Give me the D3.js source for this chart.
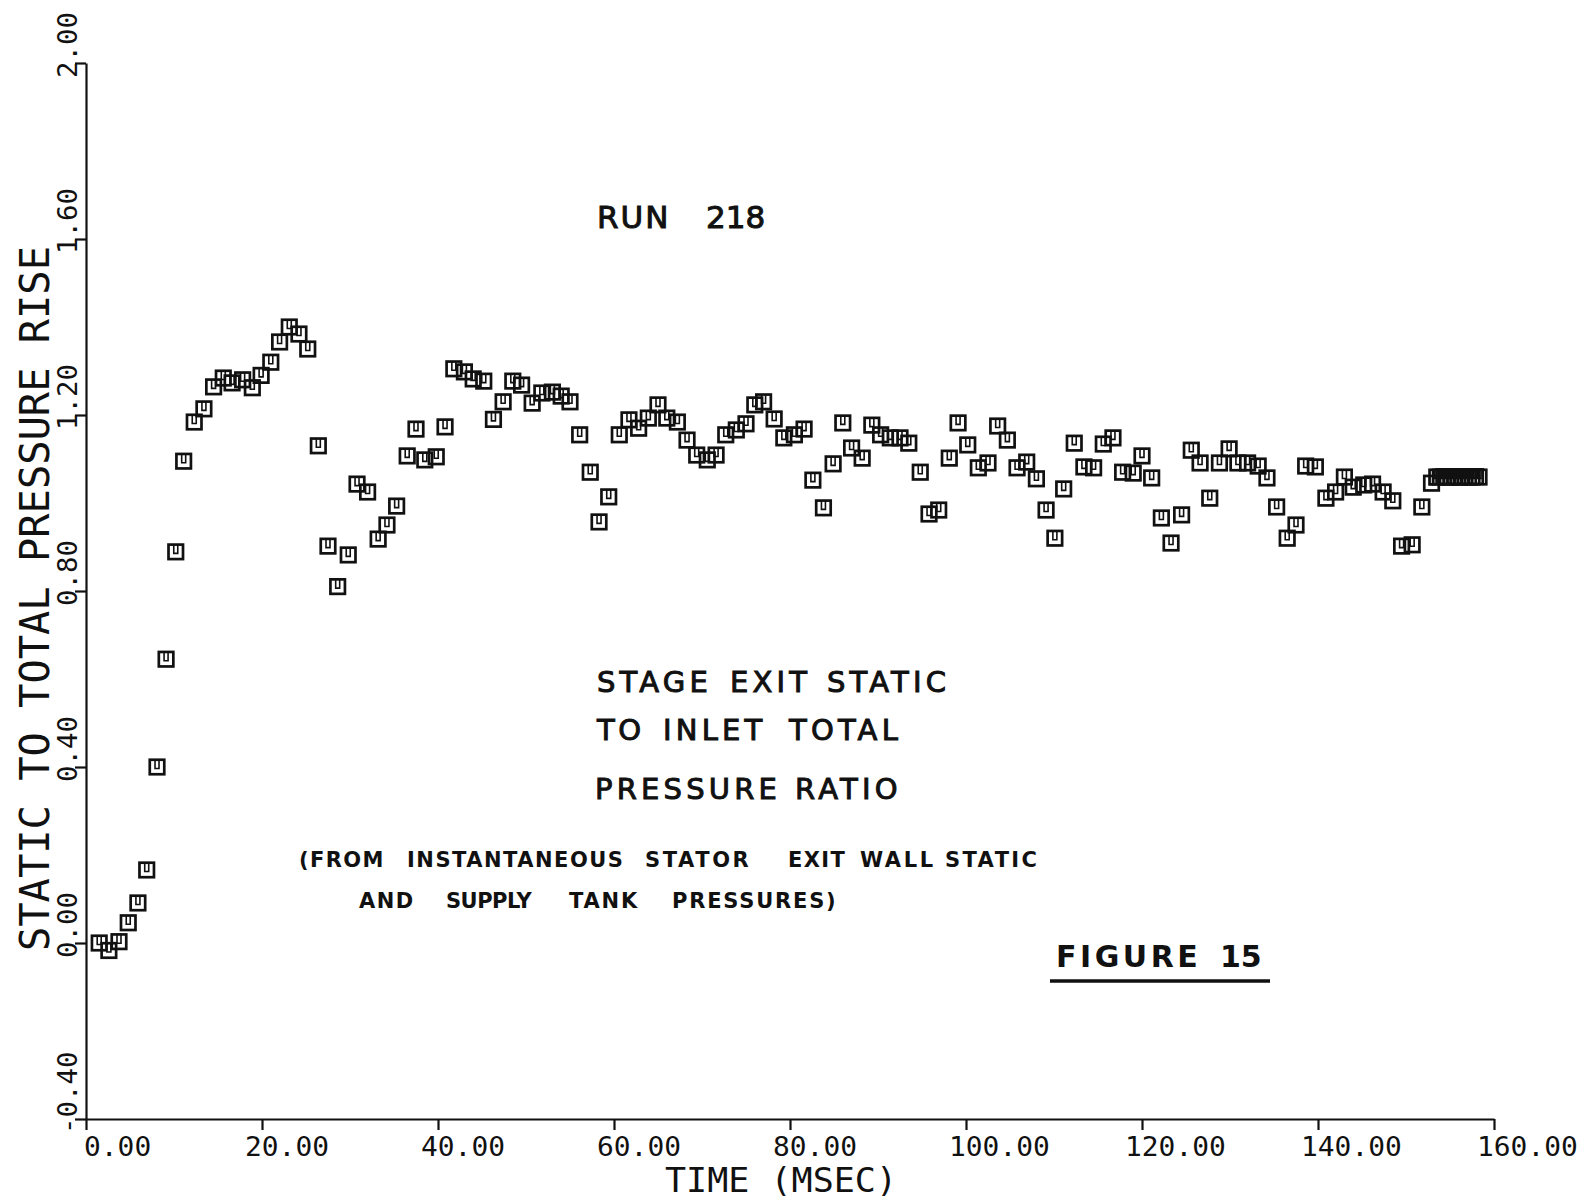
<!DOCTYPE html>
<html>
<head>
<meta charset="utf-8">
<script src="https://cdn.jsdelivr.net/npm/d3@7"></script>
<style>
  body { margin: 0; background: #fff; }
  svg { display: block; }
  .axis path, .axis line { stroke: #111; stroke-width: 2.2; }
  .tick-lbl { font-family: "DejaVu Sans Mono", monospace; font-size: 27px; fill: #111; }
  .note { font-family: "DejaVu Sans", sans-serif; fill: #111; stroke: #111; stroke-width: 1; }
  .note-b { font-family: "DejaVu Sans", sans-serif; font-weight: bold; fill: #111; }
</style>
</head>
<body>
<div id="chart"></div>
<script>
// values (time in msec, pressure ratio)
const timeMs = [1.5, 2.6, 3.75, 4.8, 5.9, 6.9, 8.07, 9.1, 10.2, 11.1, 12.3, 13.4, 14.5, 15.6, 16.6, 17.8, 18.9, 19.9,
  21.0, 22.0, 23.1, 24.2, 25.2, 26.4, 27.5, 28.6, 29.8, 30.8, 32.0, 33.2, 34.2, 35.3, 36.5, 37.5, 38.5, 39.8,
  40.8, 41.8, 43.0, 44.0, 45.2, 46.3, 47.4, 48.5, 49.5, 50.7, 51.8, 53.0, 54.0, 55.0, 56.1, 57.3, 58.3, 59.4,
  60.6, 61.7, 62.8, 63.9, 65.0, 66.0, 67.2, 68.3, 69.4, 70.6, 71.6, 72.7, 73.9, 75.0, 76.0, 77.0, 78.2, 79.3,
  80.5, 81.6, 82.6, 83.8, 84.9, 86.0, 87.0, 88.2, 89.3, 90.3, 91.4, 92.5, 93.5, 94.8, 95.8, 96.9, 98.1, 99.1,
  100.2, 101.4, 102.5, 103.6, 104.7, 105.8, 106.9, 108.0, 109.1, 110.1, 111.1, 112.3, 113.4, 114.5, 115.6, 116.7,
  117.8, 119.0, 120.0, 121.1, 122.2, 123.3, 124.5, 125.6, 126.6, 127.7, 128.8, 129.9, 130.9, 132.0, 133.2, 134.2,
  135.3, 136.5, 137.5, 138.6, 139.7, 140.9, 142.0, 143.0, 144.0, 145.2, 146.2, 147.4, 148.5, 149.5, 150.7, 151.8,
  152.9, 153.5, 153.9, 154.3, 154.7, 155.1, 155.5, 155.9, 156.3, 156.7, 157.1, 157.5, 157.9, 158.3];
const ratio = [0.0, -0.017, 0.003, 0.046, 0.091, 0.166, 0.40, 0.645, 0.889, 1.095, 1.184, 1.214, 1.264, 1.284, 1.273, 1.28, 1.262, 1.29,
  1.32, 1.366, 1.40, 1.384, 1.35, 1.13, 0.902, 0.81, 0.882, 1.043, 1.025, 0.918, 0.95, 0.993, 1.107, 1.168, 1.098, 1.105,
  1.173, 1.305, 1.298, 1.282, 1.277, 1.19, 1.23, 1.277, 1.268, 1.227, 1.25, 1.252, 1.243, 1.23, 1.155, 1.07, 0.957, 1.014,
  1.155, 1.189, 1.17, 1.193, 1.223, 1.193, 1.184, 1.143, 1.109, 1.098, 1.109, 1.155, 1.166, 1.18, 1.223, 1.23, 1.191, 1.148,
  1.155, 1.168, 1.052, 0.989, 1.089, 1.182, 1.125, 1.102, 1.177, 1.155, 1.148, 1.148, 1.136, 1.07, 0.975, 0.984, 1.102, 1.182,
  1.132, 1.08, 1.091, 1.175, 1.143, 1.08, 1.093, 1.055, 0.984, 0.92, 1.032, 1.136, 1.082, 1.08, 1.134, 1.148,
  1.07, 1.068, 1.107, 1.057, 0.966, 0.909, 0.973, 1.12, 1.091, 1.011, 1.091, 1.123, 1.091, 1.091, 1.084, 1.057,
  0.991, 0.92, 0.95, 1.084, 1.082, 1.011, 1.025, 1.059, 1.036, 1.041, 1.043, 1.025, 1.005, 0.902, 0.905, 0.991,
  1.045, 1.059, 1.059, 1.06, 1.059, 1.059, 1.06, 1.059, 1.059, 1.06, 1.059, 1.059, 1.06, 1.059];

const xTicks = [0, 20, 40, 60, 80, 100, 120, 140, 160];
const xTickLabels = ["0.00", "20.00", "40.00", "60.00", "80.00", "100.00", "120.00", "140.00", "160.00"];
const yTicks = [-0.4, 0, 0.4, 0.8, 1.2, 1.6, 2.0];
const yTickLabels = ["-0.40", "0.00", "0.40", "0.80", "1.20", "1.60", "2.00"];

const width = 1587, height = 1199;
const svg = d3.select("#chart").append("svg")
  .attr("width", width)
  .attr("height", height);

const x = d3.scaleLinear().domain([0, 160]).range([86, 1494]);
const y = d3.scaleLinear().domain([-0.4, 2.0]).range([1119, 63]);

// axes: ticks only, labels are drawn below in the plotter style
svg.append("g")
  .attr("class", "axis")
  .attr("transform", `translate(0,${y(-0.4)})`)
  .call(d3.axisBottom(x).tickValues(xTicks).tickSize(11).tickSizeOuter(0).tickFormat(""));

svg.append("g")
  .attr("class", "axis")
  .attr("transform", `translate(${x(0)},0)`)
  .call(d3.axisLeft(y).tickValues(yTicks).tickSize(11).tickSizeOuter(0).tickFormat(""));

svg.selectAll(".xl")
  .data(xTicks)
  .join("text")
  .attr("class", "tick-lbl")
  .attr("x", d => d === 0 ? x(d) - 2 : x(d) - 17)
  .attr("y", 1156)
  .attr("textLength", (d, i) => xTickLabels[i].length * 16.8)
  .attr("lengthAdjust", "spacingAndGlyphs")
  .text((d, i) => xTickLabels[i]);

svg.selectAll(".yl")
  .data(yTicks)
  .join("text")
  .attr("class", "tick-lbl")
  .attr("transform", d => `translate(77,${y(d) + 15}) rotate(-90)`)
  .attr("textLength", (d, i) => yTickLabels[i].length * 16.5)
  .attr("lengthAdjust", "spacingAndGlyphs")
  .text((d, i) => yTickLabels[i]);

// axis titles
svg.append("text")
  .attr("class", "tick-lbl")
  .style("font-size", "33px")
  .attr("x", 665).attr("y", 1192)
  .attr("textLength", 232)
  .attr("lengthAdjust", "spacingAndGlyphs")
  .text("TIME (MSEC)");

svg.append("text")
  .attr("class", "tick-lbl")
  .style("font-size", "40px")
  .attr("transform", "translate(49,951) rotate(-90)")
  .attr("textLength", 705)
  .attr("lengthAdjust", "spacingAndGlyphs")
  .text("STATIC TO TOTAL PRESSURE RISE");

// data markers: square with a small notch, as the plotter drew them
const side = 14.5;
const marks = svg.append("g")
  .selectAll("g")
  .data(timeMs.map((t, i) => [t, ratio[i]]))
  .join("g")
  .attr("transform", d => `translate(${x(d[0])},${y(d[1])})`);

marks.append("rect")
  .attr("x", -side / 2).attr("y", -side / 2)
  .attr("width", side).attr("height", side)
  .attr("fill", "none")
  .attr("stroke", "#111")
  .attr("stroke-width", 2.7);

marks.append("path")
  .attr("d", `M-2,${-side / 2} V1.5 H2 V${-side / 2}`)
  .attr("fill", "none")
  .attr("stroke", "#111")
  .attr("stroke-width", 1.6);

// annotations, word by word: [text, x start, baseline, size, class, letter spacing]
const noteWords = [
  ["RUN", 597, 228, 31, "note", 2],
  ["218", 706, 228, 31, "note", 0],
  ["STAGE", 597, 692, 29, "note", 4.2],
  ["EXIT", 730, 692, 29, "note", 4.2],
  ["STATIC", 827, 692, 29, "note", 4.2],
  ["TO", 597, 740, 29, "note", 3.5],
  ["INLET", 663, 740, 29, "note", 4.2],
  ["TOTAL", 789, 740, 29, "note", 4.2],
  ["PRESSURE", 595, 799, 29, "note", 4.2],
  ["RATIO", 795, 799, 29, "note", 4.2],
  ["(FROM", 299, 867, 21, "note-b", 1.4],
  ["INSTANTANEOUS", 407, 867, 21, "note-b", 1.5],
  ["STATOR", 645, 867, 21, "note-b", 2.6],
  ["EXIT", 788, 867, 21, "note-b", 1.4],
  ["WALL", 860, 867, 21, "note-b", 2.6],
  ["STATIC", 945, 867, 21, "note-b", 2.4],
  ["AND", 359, 908, 21, "note-b", 1.4],
  ["SUPPLY", 446, 908, 21, "note-b", -0.5],
  ["TANK", 569, 908, 21, "note-b", 1.8],
  ["PRESSURES)", 672, 908, 21, "note-b", 1.8],
  ["FIGURE", 1056, 967, 30, "note-b", 3.5],
  ["15", 1220, 967, 30, "note-b", 0]
];

svg.append("g")
  .selectAll("text")
  .data(noteWords)
  .join("text")
  .attr("class", d => d[4])
  .attr("x", d => d[1])
  .attr("y", d => d[2])
  .style("font-size", d => d[3] + "px")
  .style("letter-spacing", d => d[5] + "px")
  .text(d => d[0]);

svg.append("line")
  .attr("x1", 1050).attr("x2", 1270)
  .attr("y1", 981).attr("y2", 981)
  .attr("stroke", "#111")
  .attr("stroke-width", 3.5);
</script>
</body>
</html>
